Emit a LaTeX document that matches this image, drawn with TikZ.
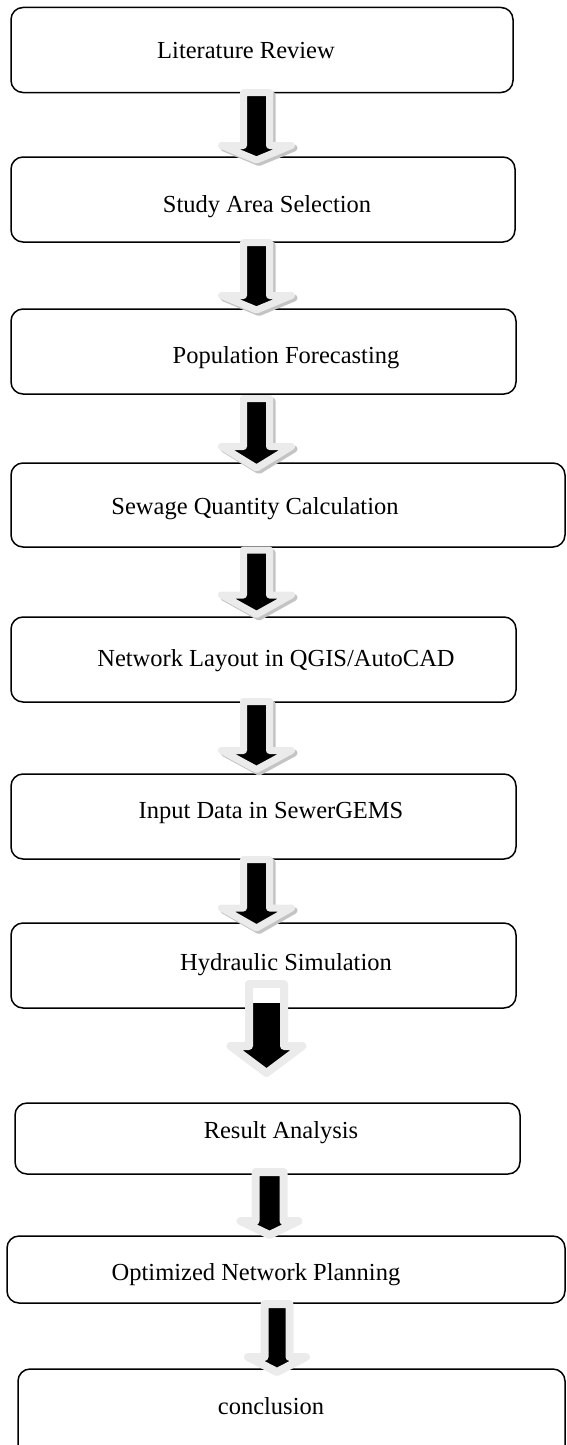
\documentclass[tikz,border=0pt]{standalone}
\usepackage{fontspec}
\setmainfont{Liberation Serif}
\definecolor{arrowgray}{HTML}{EBEBEB}
\definecolor{shadowgray}{HTML}{C4C4C4}
% block arrow pointing down:
% #1 style, #2 centre x, #3 top, #4 barb line, #5 tip, #6 shaft half-width, #7 head half-width
\newcommand{\blockarrow}[7]{%
  \draw[#1] ({#2-#6},#3) -- ({#2+#6},#3) -- ({#2+#6},#4) -- ({#2+#7},#4)
    -- (#2,#5) -- ({#2-#7},#4) -- ({#2-#6},#4) -- cycle;}
\begin{document}
\begin{tikzpicture}[x=1pt,y=-1pt,
  box/.style={draw=black, line width=1.5pt, rounded corners=12pt, fill=white,
    inner sep=0pt},
  lbl/.style={anchor=base, inner sep=0pt, font=\fontsize{24.5}{29}\selectfont},
  arrowbody/.style={fill=black, draw=arrowgray, line join=round},
  arrowshadow/.style={fill=shadowgray, draw=shadowgray, line join=round,
    shift={(2.5,2.5)}},
]
\useasboundingbox (0,0) rectangle (566,1445);
\clip (0,0) rectangle (566,1445);

% process boxes
\node[box, minimum width=502pt, minimum height=85pt] (b1) at (262,50) {};
\node[box, minimum width=504pt, minimum height=85pt] (b2) at (263,199.5) {};
\node[box, minimum width=505pt, minimum height=85pt] (b3) at (263.5,351.5) {};
\node[box, minimum width=554pt, minimum height=84pt] (b4) at (288,505) {};
\node[box, minimum width=505pt, minimum height=85pt] (b5) at (263.5,659.5) {};
\node[box, minimum width=505pt, minimum height=85pt] (b6) at (263.5,816.5) {};
\node[box, minimum width=505pt, minimum height=85pt] (b7) at (263.5,965.5) {};
\node[box, minimum width=505pt, minimum height=71pt] (b8) at (267.5,1138.5) {};
\node[box, minimum width=558pt, minimum height=67pt] (b9) at (286,1269.5) {};
\node[box, minimum width=547pt, minimum height=101pt] (b10) at (291.5,1419.5) {};

% box labels
\node[lbl] (t1) at (246,59) {Literature Review};
\node[lbl] (t2) at (267,212) {Study Area Selection};
\node[lbl] (t3) at (286,363) {Population Forecasting};
\node[lbl] (t4) at (255,514) {Sewage Quantity Calculation};
\node[lbl] (t5) at (276,666) {Network Layout in QGIS/AutoCAD};
\node[lbl] (t6) at (271,818) {Input Data in SewerGEMS};
\node[lbl] (t7) at (286,970) {Hydraulic Simulation};
\node[lbl] (t8) at (281,1138) {Result Analysis};
\node[lbl] (t9) at (256,1280) {Optimized Network Planning};
\node[lbl] (t10) at (271,1414) {conclusion};

% shadowed arrows between the first steps
\foreach \t/\b/\p in {92.5/145.5/160, 242.5/295.5/310, 398.5/446.5/468,
                      550/595/614.5, 701.5/750.5/769.5, 859.5/908/928}{
  \blockarrow{arrowshadow, line width=7pt}{256.5}{\t}{\b}{\p}{13}{35}
  \blockarrow{arrowbody, line width=7pt}{256.5}{\t}{\b}{\p}{13}{35}
}

% larger arrow below the simulation step
\blockarrow{arrowbody, line width=8pt}{266.5}{984}{1046}{1073}{17.5}{36}
\fill[white] (253,988) rectangle (280,1003);

% last two arrows
\blockarrow{arrowbody, line width=8pt}{269.5}{1172}{1221}{1235}{14}{29}
\blockarrow{arrowbody, line width=8pt}{277}{1304}{1357}{1372}{12.5}{29}
\end{tikzpicture}
\end{document}
